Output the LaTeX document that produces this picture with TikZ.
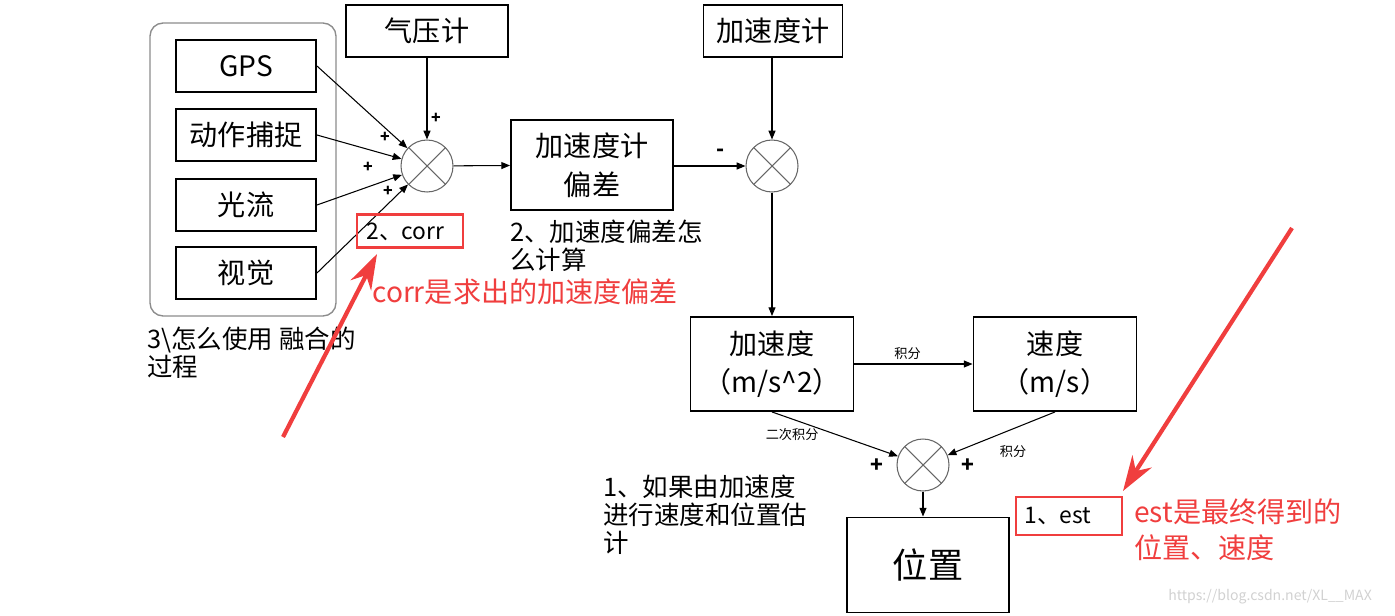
\documentclass[tikz,border=0pt]{standalone}
\usepackage{fontspec}
\setmainfont{Noto Sans CJK SC}
\usetikzlibrary{arrows.meta}
\definecolor{markred}{RGB}{240,62,62}

\tikzset{%
  % Specifications for style of nodes:
         base/.style = {rectangle, draw = black, line width=1.1pt, minimum width=3.24cm, minimum height=1.04cm, inner sep=0pt, font=\fontsize{16}{22}\selectfont, align=center},
         sensor/.style = {base, minimum width=2.8cm},
         group/.style = {rectangle, rounded corners=0.26cm, draw = black!45, line width=0.8pt, minimum width=3.72cm, minimum height=5.86cm},
         sum/.style = {circle, draw = black!60, line width=0.6pt, minimum size=1.04cm, inner sep=0pt,
                       path picture={\draw[black!60, line width=0.6pt] (path picture bounding box.north west) -- (path picture bounding box.south east)
                                     (path picture bounding box.north east) -- (path picture bounding box.south west);}},
         arr/.style = {-{Triangle[length=5pt,width=4pt]}, line width=0.6pt},
         sign/.style = {font=\bfseries\fontsize{9}{9}\selectfont, inner sep=0pt},
         tiny/.style = {font=\fontsize{7.5}{8}\selectfont, inner sep=0pt},
         note/.style = {font=\fontsize{14.5}{16}\selectfont, align=left, anchor=west, inner sep=0pt},
         rednote/.style = {note, text=markred, font=\fontsize{16}{20.5}\selectfont},
         redbox/.style = {rectangle, draw = markred, line width=1.3pt, inner sep=0pt},
         redarrow/.style = {draw = markred, line width=2.4pt, -{Stealth[length=20pt,width=13pt]}},
}

\begin{document}
\begin{tikzpicture}[x=0.02cm, y=-0.02cm]
    \useasboundingbox (0,0) rectangle (1395,615);

    % Draw nodes
    \node (fusion)   [group]                                     at (243,169.5) {};
    \node (gps)      [sensor]                                    at (246,66)  {GPS};
    \node (mocap)    [sensor]                                    at (246,135) {动作捕捉};
    \node (flow)     [sensor]                                    at (246,205) {光流};
    \node (vision)   [sensor]                                    at (246,273) {视觉};
    \node (baro)     [base]                                      at (427,31)  {气压计};
    \node (sumA)     [sum]                                       at (427,166) {};
    \node (bias)     [base, minimum height=1.8cm]                at (592,165) {加速度计\\偏差};
    \node (accmeter) [base, minimum width=2.78cm]                at (773,31)  {加速度计};
    \node (sumB)     [sum]                                       at (772,166) {};
    \node (acc)      [base, minimum width=3.26cm, minimum height=1.88cm] at (772,364) {加速度\\（m/s\textasciicircum 2）};
    \node (vel)      [base, minimum width=3.26cm, minimum height=1.88cm] at (1055,364) {速度\\（m/s）};
    \node (sumC)     [sum]                                       at (923,465) {};
    \node (pos)      [base, minimum height=1.9cm, font=\fontsize{20}{24}\selectfont] at (928,565) {位置};

    % signs
    \foreach \x/\y [count=\i] in {436/118, 385/137, 368/167, 388/191}
        \node (plusA\i) [sign] at (\x,\y) {+};
    \node (minusB)   [sign, font=\bfseries\fontsize{12}{12}\selectfont] at (721,153) {-};
    \node (plusC1)   [sign, font=\bfseries\fontsize{12}{12}\selectfont] at (877,466) {+};
    \node (plusC2)   [sign, font=\bfseries\fontsize{12}{12}\selectfont] at (968,466) {+};

    % Draw arrows
    \draw[arr]  (baro) -- (sumA);
    \draw[arr]  (gps.east) -- (sumA);
    \draw[arr]  (mocap.east) -- (sumA);
    \draw[arr]  (flow.east) -- (sumA);
    \draw[arr]  (vision.east) -- (sumA);
    \draw[arr]  (sumA) -- (bias);
    \draw[arr]  (bias.east |- sumB) -- (sumB);
    \draw[arr]  (accmeter.south -| sumB) -- (sumB);
    \draw[arr]  (sumB) -- (acc);
    \draw[arr]  (acc) -- node[tiny, above=2pt, pos=0.45] {积分} (vel);
    \draw[arr]  (acc.south) -- node[tiny, pos=0.16, below=5pt] {二次积分} (sumC);
    \draw[arr]  (vel.south) -- node[tiny, pos=0.39, below=9pt] {积分} (sumC);
    \draw[arr]  (sumC) -- (sumC |- pos.north);

    % notes
    \node (corrbox)  [redbox, minimum width=2.12cm, minimum height=0.66cm] at (410,231) {};
    \node (corrtext) [note, font=\fontsize{13}{15}\selectfont] at (366,232) {2、corr};
    \node (biasnote) [note] at (510,246) {2、加速度偏差怎\\么计算};
    \node (fusenote) [note] at (147,353) {3\textbackslash 怎么使用 融合的\\过程};
    \node (estnote)  [note] at (603,515) {1、如果由加速度\\进行速度和位置估\\计};
    \node (estbox)   [redbox, minimum width=2.12cm, minimum height=0.76cm] at (1069,516) {};
    \node (esttext)  [note, font=\fontsize{13}{15}\selectfont] at (1024,516) {1、est};
    \node (corrred)  [rednote] at (372,292) {corr是求出的加速度偏差};
    \node (estred)   [rednote] at (1134,530) {est是最终得到的\\位置、速度};
    \node (wm)       [anchor=west, text=black!18, font=\fontsize{8}{8}\selectfont, inner sep=0pt] at (1168,597) {https://blog.csdn.net/XL\_\_MAX};

    % red arrows
    \coordinate (corrtail) at (283,437);
    \coordinate (corrtip)  at (377,254);
    \coordinate (esttail)  at (1292,228);
    \coordinate (esttip)   at (1123,491);
    \draw[redarrow] (corrtail) -- (corrtip);
    \draw[redarrow] (esttail) -- (esttip);

\end{tikzpicture}
\end{document}
